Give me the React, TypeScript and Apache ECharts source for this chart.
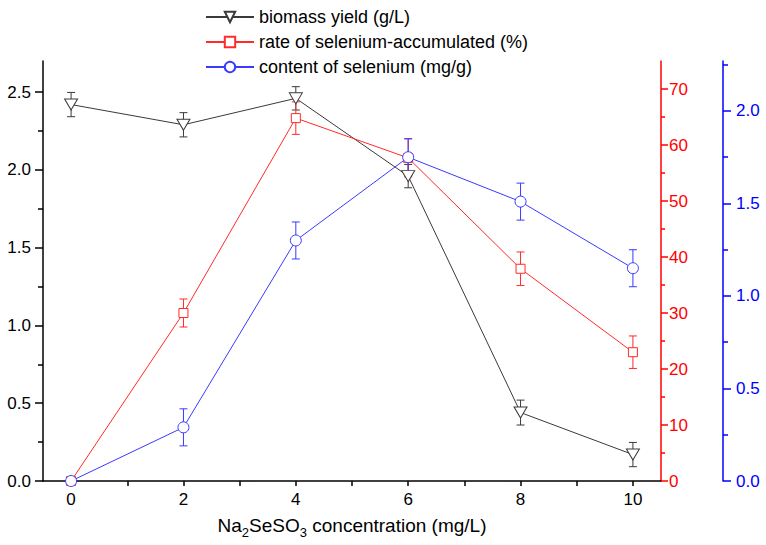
import React, { useEffect, useRef } from 'react';
import * as echarts from 'echarts';

const concentrations = [0, 2, 4, 6, 8, 10];
const biomass = [2.42, 2.29, 2.46, 1.96, 0.44, 0.17];
const biomassErr = [0.078, 0.078, 0.075, 0.075, 0.08, 0.078];
const rate = [0, 30.0, 64.8, 57.7, 37.9, 23.0];
const rateErr = [0, 2.5, 2.9, 3.4, 3.0, 2.9];
const content = [0, 0.29, 1.3, 1.75, 1.51, 1.15];
const contentErr = [0, 0.1, 0.1, 0.1, 0.1, 0.1];

const xTickValues = [0, 1, 2, 3, 4, 5, 6, 7, 8, 9, 10];
const xLabelValues = [0, 2, 4, 6, 8, 10];
const leftTickValues = [0, 0.5, 1, 1.5, 2, 2.5];
const redTickValues = [0, 10, 20, 30, 40, 50, 60, 70];
const blueTickValues = [0, 0.5, 1, 1.5, 2];

const names = ['biomass yield (g/L)', 'rate of selenium-accumulated (%)', 'content of selenium (mg/g)'];
const FONT = 'Liberation Sans, Arial, Helvetica, sans-serif';
const BLACK = '#3a3a3a';
const RED = '#ff2a2a';
const BLUE = '#3a3aff';

function errorSeries(id: string, vals: number[], errs: number[], yAxisIndex: number, color: string) {
  return {
    type: 'custom',
    name: id,
    yAxisIndex,
    silent: true,
    z: 1,
    clip: true,
    data: concentrations.map((c, i) => [c, vals[i], errs[i]]),
    encode: { x: 0, y: 1 },
    renderItem: (params: any, api: any) => {
      const x = api.value(0);
      const y = api.value(1);
      const e = api.value(2);
      if (!e) return null;
      const top = api.coord([x, y + e]);
      const bot = api.coord([x, y - e]);
      const w = 4;
      const st = { stroke: color, lineWidth: 1 };
      return {
        type: 'group',
        children: [
          { type: 'line', shape: { x1: top[0], y1: top[1], x2: bot[0], y2: bot[1] }, style: st },
          { type: 'line', shape: { x1: top[0] - w, y1: top[1], x2: top[0] + w, y2: top[1] }, style: st },
          { type: 'line', shape: { x1: bot[0] - w, y1: bot[1], x2: bot[0] + w, y2: bot[1] }, style: st },
        ],
      };
    },
  };
}

function lineSeries(name: string, vals: number[], yAxisIndex: number, color: string, symbol: string, size: any, rotate: number) {
  return {
    type: 'line',
    name,
    yAxisIndex,
    z: 3,
    data: concentrations.map((c, i) => [c, vals[i]]),
    symbol,
    symbolSize: size,
    symbolRotate: rotate,
    showAllSymbol: true,
    lineStyle: { color, width: 1 },
    itemStyle: { color: '#ffffff', borderColor: color, borderWidth: 1 },
    emphasis: { disabled: true },
    clip: true,
  };
}

export default function App() {
  const ref = useRef<HTMLDivElement>(null);
  useEffect(() => {
    document.body.style.margin = '0';
    const chart = echarts.init(ref.current!, null, { renderer: 'svg' });
    const labelStyle = { fontFamily: FONT, fontSize: 17 };
    chart.setOption({
      animation: false,
      backgroundColor: '#ffffff',
      grid: { left: 43, right: 105, top: 61, bottom: 64 },
      legend: {
        data: names,
        orient: 'vertical',
        left: 205,
        top: 7,
        padding: 0,
        itemWidth: 48,
        itemHeight: 13,
        itemGap: 5,
        selectedMode: false,
        textStyle: { fontFamily: FONT, fontSize: 18, color: '#000', lineHeight: 20 },
      },
      xAxis: {
        type: 'value',
        min: -0.5,
        max: 10.5,
        interval: 1,
        name: 'Na{sub|2}SeSO{sub|3} concentration (mg/L)',
        nameLocation: 'middle',
        nameGap: 31,
        nameTextStyle: {
          fontFamily: FONT,
          fontSize: 19,
          color: '#000',
          rich: {
            sub: { fontFamily: FONT, fontSize: 13, color: '#000', padding: [14, 0, 0, 0] },
          },
        },
        axisLine: { show: true, onZero: false, lineStyle: { color: '#000', width: 1.5 } },
        axisTick: { show: true, length: 5, customValues: xTickValues, lineStyle: { color: '#000', width: 1.5 } },
        axisLabel: { ...labelStyle, color: '#000', margin: 10, customValues: xLabelValues },
        splitLine: { show: false },
      },
      yAxis: [
        {
          type: 'value',
          min: 0,
          max: 2.7,
          interval: 0.5,
          position: 'left',
          axisLine: { show: true, onZero: false, lineStyle: { color: '#000', width: 1.5 } },
          axisTick: { show: true, length: 8, customValues: leftTickValues, lineStyle: { color: '#000', width: 1.5 } },
          minorTick: { show: true, splitNumber: 2, length: 5, lineStyle: { color: '#000', width: 1.5 } },
          axisLabel: { ...labelStyle, color: '#000', margin: 12, customValues: leftTickValues, formatter: (v: number) => v.toFixed(1) },
          splitLine: { show: false },
        },
        {
          type: 'value',
          min: 0,
          max: 75,
          interval: 10,
          position: 'right',
          axisLine: { show: true, onZero: false, lineStyle: { color: '#ff0000', width: 1.5 } },
          axisTick: { show: true, length: 7, customValues: redTickValues, lineStyle: { color: '#ff0000', width: 1.5 } },
          minorTick: { show: true, splitNumber: 2, length: 4, lineStyle: { color: '#ff0000', width: 1.5 } },
          axisLabel: { ...labelStyle, color: '#ff0000', margin: 8, customValues: redTickValues },
          splitLine: { show: false },
        },
        {
          type: 'value',
          min: 0,
          max: 2.27,
          interval: 0.5,
          position: 'right',
          offset: 62,
          axisLine: { show: true, onZero: false, lineStyle: { color: '#0000ff', width: 1.5 } },
          axisTick: { show: true, length: 8, customValues: blueTickValues, lineStyle: { color: '#0000ff', width: 1.5 } },
          minorTick: { show: true, splitNumber: 2, length: 5, lineStyle: { color: '#0000ff', width: 1.5 } },
          axisLabel: { ...labelStyle, color: '#0000ff', margin: 13, customValues: blueTickValues, formatter: (v: number) => v.toFixed(1) },
          splitLine: { show: false },
        },
      ],
      series: [
        errorSeries('err-biomass', biomass, biomassErr, 0, BLACK),
        errorSeries('err-rate', rate, rateErr, 1, RED),
        errorSeries('err-content', content, contentErr, 2, BLUE),
        lineSeries(names[0], biomass, 0, BLACK, 'triangle', [13, 11], 180),
        lineSeries(names[1], rate, 1, RED, 'rect', 9, 0),
        lineSeries(names[2], content, 2, BLUE, 'circle', 11, 0),
      ],
    });
    return () => chart.dispose();
  }, []);
  return <div ref={ref} style={{ width: 766, height: 545 }} />;
}
